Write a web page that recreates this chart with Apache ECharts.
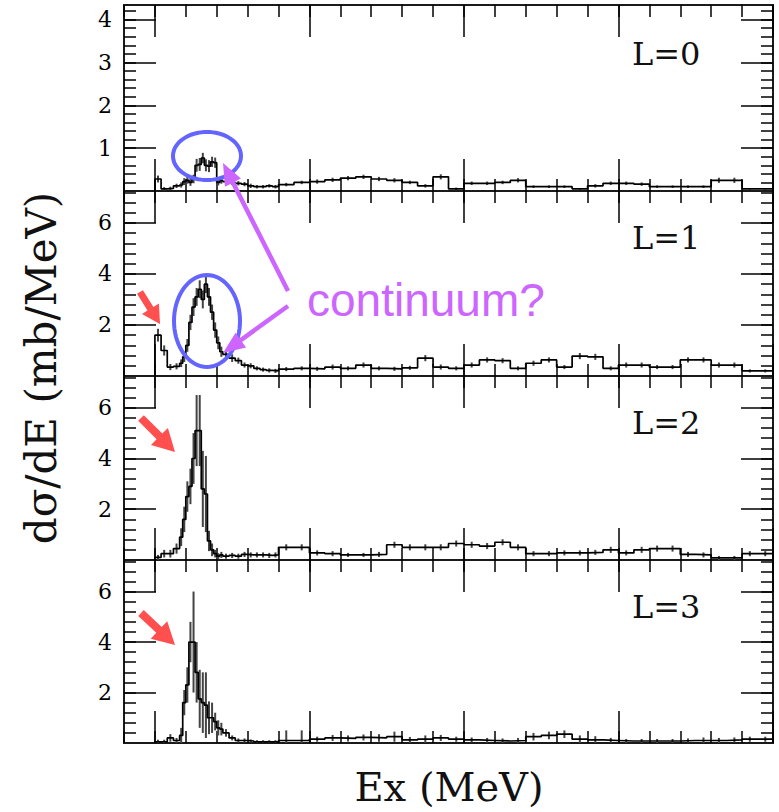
<!DOCTYPE html>
<html><head><meta charset="utf-8">
<script src="https://cdn.jsdelivr.net/npm/echarts@6/dist/echarts.min.js"></script>
<style>html,body{margin:0;padding:0;background:#fff}#c{width:779px;height:812px}</style>
</head><body><div id="c"></div>
<script>
// Bin edges (MeV) shared by all panels
const binEdges = [0,0.2,0.4,0.6,0.8,0.9,1.0,1.1,1.2,1.3,1.4,1.5,1.6,1.7,1.8,1.9,2.0,2.1,2.2,2.4,2.6,2.8,3.0,3.2,3.4,3.6,3.8,4.0,4.5,5.0,5.5,6.0,6.5,7.0,7.5,8.0,8.5,9.0,9.5,10.0,10.5,11.0,11.5,12.0,12.5,13.0,13.5,14.0,14.5,15.0,15.5,16.0,16.5,17.0,17.5,18.0,18.5,19.0,19.5,20.0];

const L0_vals = [0.28,0.05,0.06,0.12,0.14,0.22,0.25,0.2,0.28,0.6,
  0.62,0.77,0.6,0.58,0.68,0.66,0.2,0.24,0.22,0.2,
  0.18,0.16,0.12,0.1,0.1,0.12,0.1,0.15,0.2,0.22,
  0.26,0.3,0.33,0.28,0.25,0.2,0.12,0.33,0.05,0.18,
  0.18,0.2,0.25,0.1,0.1,0.1,0.05,0.12,0.18,0.18,
  0.16,0.1,0.1,0.1,0.1,0.25,0.25,0.05,0.05];
const L0_errs = [0.08,0.04,0.04,0.05,0.06,0.08,0.08,0.08,0.1,0.15,
  0.15,0.12,0.14,0.14,0.12,0.12,0.07,0.07,0.06,0.06,
  0.05,0.05,0.05,0.04,0.04,0.04,0.04,0.04,0.04,0.05,
  0.05,0.05,0.05,0.05,0.05,0.04,0.04,0.06,0.03,0.04,
  0.04,0.04,0.05,0.03,0.03,0.03,0.02,0.04,0.04,0.04,
  0.04,0.03,0.03,0.03,0.03,0.06,0.06,0.02,0.02];

const L1_vals = [1.6,1.0,0.35,0.38,0.5,0.75,1.2,2.1,2.7,3.1,
  3.4,3.0,3.6,3.1,2.5,1.8,1.3,0.95,0.85,0.7,
  0.6,0.43,0.4,0.3,0.25,0.22,0.2,0.27,0.3,0.28,
  0.35,0.3,0.43,0.3,0.28,0.32,0.7,0.35,0.3,0.43,
  0.63,0.6,0.3,0.5,0.63,0.35,0.78,0.75,0.3,0.43,
  0.43,0.35,0.35,0.63,0.63,0.43,0.43,0.2,0.2];
const L1_errs = [0.25,0.2,0.12,0.12,0.15,0.2,0.25,0.3,0.35,0.35,
  0.35,0.35,0.35,0.35,0.3,0.3,0.25,0.2,0.15,0.15,
  0.12,0.1,0.1,0.08,0.08,0.08,0.08,0.08,0.08,0.08,
  0.1,0.08,0.1,0.08,0.08,0.08,0.12,0.1,0.08,0.1,
  0.1,0.1,0.08,0.1,0.1,0.08,0.12,0.12,0.08,0.1,
  0.1,0.08,0.08,0.1,0.1,0.1,0.1,0.06,0.06];

const L2_vals = [0.1,0.25,0.25,0.45,0.9,1.6,2.5,2.9,4.0,5.1,
  5.1,2.8,2.6,0.75,0.4,0.25,0.15,0.2,0.15,0.18,
  0.15,0.22,0.2,0.2,0.2,0.18,0.2,0.5,0.5,0.28,
  0.25,0.2,0.2,0.22,0.6,0.5,0.5,0.5,0.65,0.6,
  0.55,0.7,0.5,0.25,0.25,0.28,0.28,0.3,0.4,0.28,
  0.4,0.45,0.45,0.22,0.2,0.08,0.08,0.25,0.25];
const L2_errs = [0.1,0.15,0.15,0.2,0.35,0.5,0.6,0.7,1.0,1.4,
  1.4,1.5,1.5,0.4,0.25,0.15,0.12,0.12,0.1,0.1,
  0.1,0.1,0.1,0.1,0.1,0.1,0.1,0.12,0.12,0.1,
  0.1,0.08,0.08,0.1,0.12,0.12,0.12,0.12,0.12,0.12,
  0.12,0.12,0.12,0.1,0.1,0.1,0.1,0.1,0.12,0.1,
  0.12,0.12,0.12,0.1,0.1,0.08,0.08,0.1,0.1];

const L3_vals = [0.05,0.05,0.2,0.1,0.3,1.6,2.3,4.0,4.0,2.8,
  1.75,1.6,1.5,1.0,1.0,0.85,0.6,0.55,0.4,0.2,
  0.1,0.1,0.08,0.05,0.05,0.05,0.05,0.1,0.1,0.15,
  0.2,0.18,0.22,0.2,0.25,0.12,0.15,0.2,0.15,0.12,
  0.1,0.08,0.1,0.25,0.3,0.35,0.15,0.12,0.1,0.08,
  0.08,0.08,0.08,0.1,0.1,0.1,0.12,0.15,0.15];
const L3_errs = [0.08,0.08,0.15,0.1,0.3,0.5,0.7,0.8,2.0,1.2,
  1.15,1.2,1.3,0.65,0.6,0.35,0.3,0.25,0.15,0.1,
  0.08,0.08,0.06,0.06,0.06,0.06,0.06,0.4,0.4,0.1,
  0.12,0.12,0.12,0.15,0.2,0.12,0.15,0.12,0.1,0.1,
  0.1,0.1,0.1,0.15,0.15,0.15,0.15,0.15,0.1,0.08,
  0.08,0.08,0.08,0.08,0.12,0.1,0.1,0.1,0.1];

const panelLabels = ['L=0','L=1','L=2','L=3'];
const yMaxes = [4.34, 7.25, 7.25, 7.25];
// tick positions
const xMajorTicks = [0,5,10,15,20];
const xMinorTicks = [-1,0,1,2,3,4,5,6,7,8,9,10,11,12,13,14,15,16,17,18,19,20];
const yMajorTicksL0 = [1,2,3,4];
const yMinorTicksL0 = [0.2,0.4,0.6,0.8,1,1.2,1.4,1.6,1.8,2,2.2,2.4,2.6,2.8,3,3.2,3.4,3.6,3.8,4,4.2];
const yMajorTicksL123 = [2,4,6];
const yMinorTicksL123 = [0.4,0.8,1.2,1.6,2,2.4,2.8,3.2,3.6,4,4.4,4.8,5.2,5.6,6,6.4,6.8,7.2];
const yMajorTicks = [yMajorTicksL0, yMajorTicksL123, yMajorTicksL123, yMajorTicksL123];
const yMinorTicks = [yMinorTicksL0, yMinorTicksL123, yMinorTicksL123, yMinorTicksL123];
const xTitle = 'Ex (MeV)';
const yTitle = 'dσ/dE (mb/MeV)';
const noteText = 'continuum?';

const valsAll = [L0_vals, L1_vals, L2_vals, L3_vals];
const errsAll = [L0_errs, L1_errs, L2_errs, L3_errs];

const chart = echarts.init(document.getElementById('c'), null, {renderer: 'svg'});
const grids = [], xAxes = [], yAxes = [], series = [];
const left = 124, width = 649;
const tops = [5, 191, 376, 560], heights = [186, 185, 184, 183];
const tickLine = {color: '#000', width: 1.5};
const serif = 'DejaVu Serif';

for (let p = 0; p < 4; p++) {
  grids.push({left: left, width: width, top: tops[p], height: heights[p], show: true,
    borderColor: '#1a1a1a', borderWidth: 2, backgroundColor: 'transparent'});
  ['bottom', 'top'].forEach(function (pos) {
    xAxes.push({gridIndex: p, type: 'value', position: pos, min: -1, max: 20,
      axisLine: {show: false, onZero: false},
      axisTick: {show: true, inside: true, length: 12, customValues: xMinorTicks, lineStyle: tickLine},
      axisLabel: {show: false}, splitLine: {show: false}});
    xAxes.push({gridIndex: p, type: 'value', position: pos, min: -1, max: 20,
      axisLine: {show: false, onZero: false},
      axisTick: {show: true, inside: true, length: 32, customValues: xMajorTicks, lineStyle: tickLine},
      axisLabel: {show: false}, splitLine: {show: false}});
  });
  ['left', 'right'].forEach(function (pos) {
    yAxes.push({gridIndex: p, type: 'value', position: pos, min: 0, max: yMaxes[p],
      axisLine: {show: false, onZero: false},
      axisTick: {show: true, inside: true, length: 12, customValues: yMinorTicks[p], lineStyle: tickLine},
      axisLabel: {show: false}, splitLine: {show: false}});
    yAxes.push({gridIndex: p, type: 'value', position: pos, min: 0, max: yMaxes[p],
      axisLine: {show: false, onZero: false},
      axisTick: {show: true, inside: true, length: 32, customValues: yMajorTicks[p], lineStyle: tickLine},
      axisLabel: pos === 'left' ? {show: true, customValues: yMajorTicks[p], fontFamily: serif,
        fontSize: 22, color: '#000', margin: 12} : {show: false},
      splitLine: {show: false}});
  });

  const vals = valsAll[p], errs = errsAll[p];
  const stepData = [[binEdges[0], 0]];
  for (let i = 0; i < vals.length; i++) stepData.push([binEdges[i], vals[i]]);
  stepData.push([binEdges[vals.length], vals[vals.length - 1]]);
  series.push({type: 'line', xAxisIndex: 4 * p + 1, yAxisIndex: 4 * p + 1, step: 'end',
    data: stepData, symbol: 'none', silent: true, clip: true,
    lineStyle: {color: '#000', width: 1.7}, z: 3});

  const errData = vals.map(function (v, i) {
    const c = (binEdges[i] + binEdges[i + 1]) / 2;
    return [c, Math.max(0, v - errs[i]), v + errs[i]];
  });
  series.push({type: 'custom', xAxisIndex: 4 * p + 1, yAxisIndex: 4 * p + 1,
    data: errData, silent: true, clip: true, z: 2,
    encode: {x: 0, y: [1, 2]},
    renderItem: function (params, api) {
      const a = api.coord([api.value(0), api.value(1)]);
      const b = api.coord([api.value(0), api.value(2)]);
      return {type: 'line', shape: {x1: a[0], y1: a[1], x2: b[0], y2: b[1]},
        style: {stroke: '#444', lineWidth: 2}};
    }});
}

// annotation helpers
function ellipsePts(cx, cy, rx, ry) {
  const pts = [];
  for (let k = 0; k < 72; k++) {
    const t = k / 72 * Math.PI * 2;
    pts.push([cx + rx * Math.cos(t), cy + ry * Math.sin(t)]);
  }
  return pts;
}
function arrowPts(x1, y1, x2, y2, w, hw, hl) {
  const L = Math.hypot(x2 - x1, y2 - y1), dx = (x2 - x1) / L, dy = (y2 - y1) / L;
  const nx = -dy, ny = dx;
  const bx = x2 - dx * hl, by = y2 - dy * hl;
  return [[x1 + nx * w / 2, y1 + ny * w / 2], [bx + nx * w / 2, by + ny * w / 2],
    [bx + nx * hw / 2, by + ny * hw / 2], [x2, y2],
    [bx - nx * hw / 2, by - ny * hw / 2], [bx - nx * w / 2, by - ny * w / 2],
    [x1 - nx * w / 2, y1 - ny * w / 2]];
}
const blue = '#6464ff', purple = '#cc66ff', red = '#ff4f4f';
const labelY = [54, 238, 423, 607];
const graphic = [];
panelLabels.forEach(function (t, p) {
  graphic.push({type: 'text', x: 632, y: labelY[p], z: 10,
    style: {text: t, font: '32px "DejaVu Serif"', fill: '#111', textAlign: 'left', textVerticalAlign: 'middle'}});
});
graphic.push({type: 'text', x: 449, y: 787, z: 10,
  style: {text: xTitle, font: '40px "DejaVu Serif"', fill: '#111', textAlign: 'center', textVerticalAlign: 'middle'}});
graphic.push({type: 'text', x: 41, y: 368, rotation: Math.PI / 2, z: 10,
  style: {text: yTitle, font: '42px "DejaVu Serif"', fill: '#111', textAlign: 'center', textVerticalAlign: 'middle'}});
graphic.push({type: 'text', x: 307, y: 300, z: 10,
  style: {text: noteText, font: '46px "Liberation Sans"', fill: purple, textAlign: 'left', textVerticalAlign: 'middle'}});
graphic.push({type: 'polygon', z: 11, shape: {points: ellipsePts(207, 156, 34, 24)},
  style: {fill: 'none', stroke: blue, lineWidth: 4}});
graphic.push({type: 'polygon', z: 11, shape: {points: ellipsePts(207, 321, 33, 46)},
  style: {fill: 'none', stroke: blue, lineWidth: 4}});
graphic.push({type: 'polygon', z: 12, shape: {points: arrowPts(288, 291, 223, 163, 4.5, 18, 22)},
  style: {fill: purple}});
graphic.push({type: 'polygon', z: 12, shape: {points: arrowPts(288, 306, 223, 353, 4.5, 18, 22)},
  style: {fill: purple}});
graphic.push({type: 'polygon', z: 12, shape: {points: arrowPts(140, 292, 160, 324, 7, 20, 18)},
  style: {fill: red}});
graphic.push({type: 'polygon', z: 12, shape: {points: arrowPts(141, 418, 175, 452, 8, 24, 22)},
  style: {fill: red}});
graphic.push({type: 'polygon', z: 12, shape: {points: arrowPts(141, 613, 175, 645, 8, 24, 22)},
  style: {fill: red}});

chart.setOption({
  animation: false,
  backgroundColor: '#fff',
  grid: grids, xAxis: xAxes, yAxis: yAxes, series: series,
  graphic: graphic
});
</script></body></html>
